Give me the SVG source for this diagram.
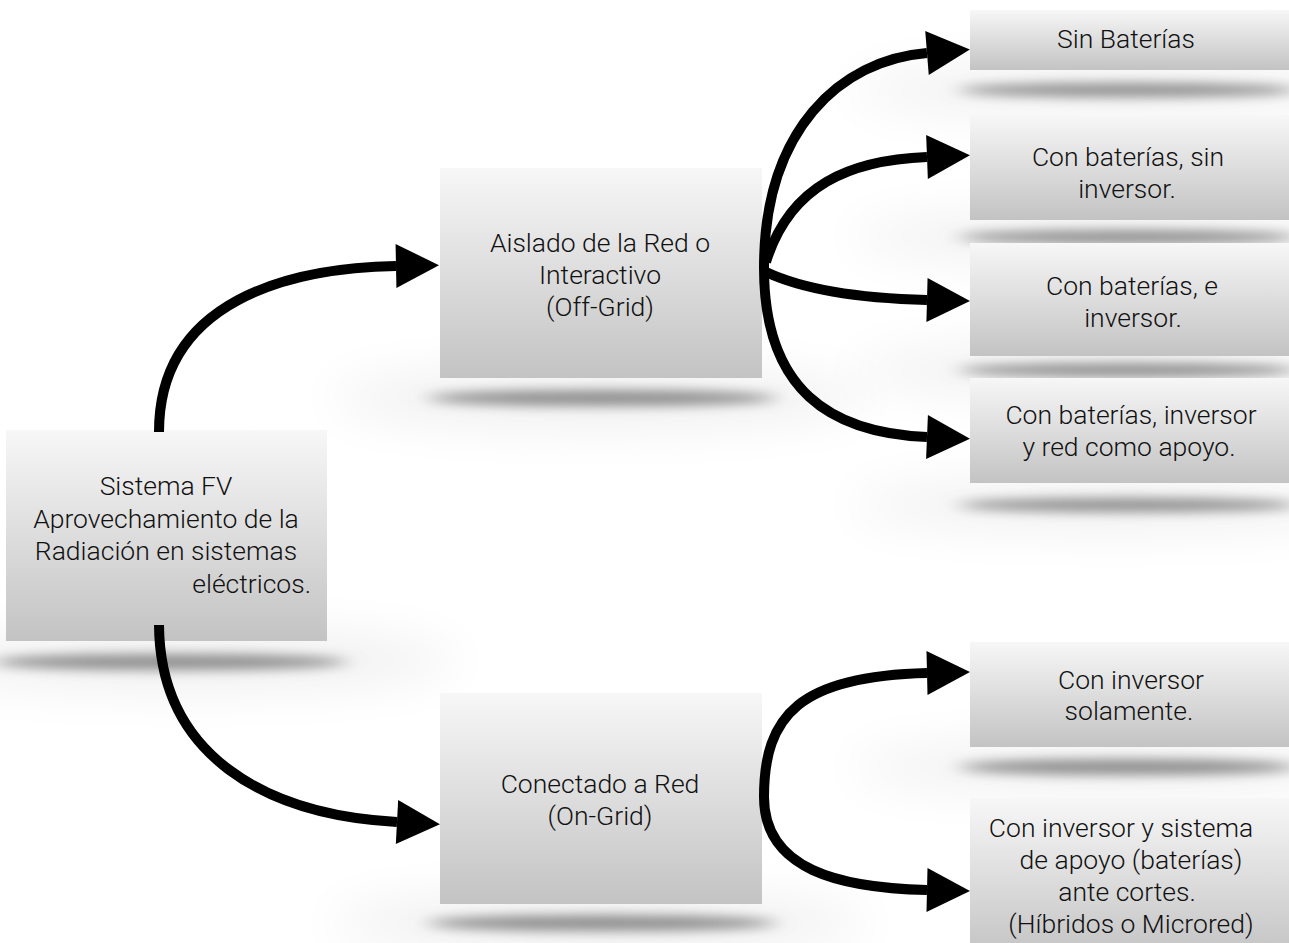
<svg xmlns="http://www.w3.org/2000/svg" width="1289" height="943" viewBox="0 0 1289 943">
  <defs>
    <style>
      .box { fill: url(#boxFill); }
      .shadow { fill: #8e8e8e; filter: url(#blurShadow); }
      .halo { fill: #000; opacity: 0.06; filter: url(#blurHalo); }
      .label { font-family: Roboto, "Liberation Sans", Arial, sans-serif; font-weight: 300; font-size: 26.5px; fill: #111; text-anchor: middle; }
      .conn { fill: none; stroke: #000; stroke-width: 10; marker-end: url(#head); }
    </style>
    <linearGradient id="boxFill" x1="0" y1="0" x2="0" y2="1">
      <stop offset="0" stop-color="#f7f7f7"/>
      <stop offset="1" stop-color="#c3c3c3"/>
    </linearGradient>
    <filter id="blurShadow" x="-20%" y="-300%" width="140%" height="700%">
      <feGaussianBlur stdDeviation="10 6"/>
    </filter>
    <filter id="blurHalo" x="-50%" y="-200%" width="200%" height="500%">
      <feGaussianBlur stdDeviation="25"/>
    </filter>
    <marker id="head" markerUnits="userSpaceOnUse" markerWidth="44" markerHeight="44" refX="0" refY="22" orient="auto" overflow="visible">
      <path d="M0,0 L43,22 L0,44 Z" fill="#000"/>
    </marker>
  </defs>

  <rect x="0" y="0" width="1289" height="943" fill="#fff"/>

  <!-- root node -->
  <g id="node-sistema">
    <ellipse class="halo" cx="190" cy="660" rx="270" ry="30"/>
    <ellipse class="shadow" cx="170" cy="662" rx="178" ry="8"/>
    <rect class="box" x="6" y="430" width="321" height="211"/>
    <text class="label" x="166" y="495">Sistema FV</text>
    <text class="label" x="166" y="528">Aprovechamiento de la</text>
    <text class="label" x="166" y="560">Radiación en sistemas</text>
    <text class="label" x="311" y="593" style="text-anchor:end">eléctricos.</text>
  </g>

  <!-- off-grid branch -->
  <g id="node-aislado">
    <ellipse class="halo" cx="600" cy="398" rx="270" ry="30"/>
    <ellipse class="shadow" cx="602" cy="398" rx="175" ry="8"/>
    <rect class="box" x="440" y="168" width="322" height="210"/>
    <text class="label" x="600" y="252">Aislado de la Red o</text>
    <text class="label" x="600" y="284">Interactivo</text>
    <text class="label" x="600" y="316">(Off-Grid)</text>
  </g>

  <!-- on-grid branch -->
  <g id="node-conectado">
    <ellipse class="halo" cx="600" cy="923" rx="270" ry="30"/>
    <ellipse class="shadow" cx="602" cy="923" rx="175" ry="8"/>
    <rect class="box" x="440" y="693" width="322" height="211"/>
    <text class="label" x="600" y="793">Conectado a Red</text>
    <text class="label" x="600" y="825">(On-Grid)</text>
  </g>

  <!-- off-grid variants -->
  <g id="node-sin-baterias">
    <ellipse class="halo" cx="1110" cy="90" rx="260" ry="25"/>
    <ellipse class="shadow" cx="1128" cy="90" rx="170" ry="7"/>
    <rect class="box" x="970" y="10" width="322" height="60"/>
    <text class="label" x="1126" y="48">Sin Baterías</text>
  </g>

  <g id="node-bat-sin-inversor">
    <ellipse class="halo" cx="1110" cy="237" rx="260" ry="25"/>
    <ellipse class="shadow" cx="1128" cy="237" rx="170" ry="7"/>
    <rect class="box" x="970" y="115" width="322" height="105"/>
    <text class="label" x="1128" y="166">Con baterías, sin</text>
    <text class="label" x="1127" y="198">inversor.</text>
  </g>

  <g id="node-bat-inversor">
    <ellipse class="halo" cx="1110" cy="370" rx="260" ry="25"/>
    <ellipse class="shadow" cx="1128" cy="370" rx="170" ry="7"/>
    <rect class="box" x="970" y="243" width="322" height="113"/>
    <text class="label" x="1132" y="295">Con baterías, e</text>
    <text class="label" x="1133" y="327">inversor.</text>
  </g>

  <g id="node-bat-inversor-red">
    <ellipse class="halo" cx="1110" cy="505" rx="260" ry="25"/>
    <ellipse class="shadow" cx="1128" cy="505" rx="170" ry="7"/>
    <rect class="box" x="970" y="378" width="322" height="105"/>
    <text class="label" x="1131" y="424">Con baterías, inversor</text>
    <text class="label" x="1129" y="456">y red como apoyo.</text>
  </g>

  <!-- on-grid variants -->
  <g id="node-inversor-solo">
    <ellipse class="halo" cx="1110" cy="767" rx="260" ry="25"/>
    <ellipse class="shadow" cx="1128" cy="767" rx="170" ry="8"/>
    <rect class="box" x="970" y="642" width="322" height="105"/>
    <text class="label" x="1131" y="689">Con inversor</text>
    <text class="label" x="1129" y="720">solamente.</text>
  </g>

  <g id="node-hibridos">
    <rect class="box" x="970" y="798" width="322" height="160"/>
    <text class="label" x="1121" y="837">Con inversor y sistema</text>
    <text class="label" x="1131" y="869">de apoyo (baterías)</text>
    <text class="label" x="1127" y="901">ante cortes.</text>
    <text class="label" x="1131" y="933">(Híbridos o Microred)</text>
  </g>

  <!-- connectors -->
  <g id="connectors">
    <path class="conn" d="M159,432 C159,300 290,268 396,266"/>
    <path class="conn" d="M159,625 C160,755 265,815 397,822"/>
    <path class="conn" d="M764,268 C764,130 840,60 927,53"/>
    <path class="conn" d="M766,262 C790,185 850,160 927,157"/>
    <path class="conn" d="M766,272 C800,288 850,298 927,300"/>
    <path class="conn" d="M764,268 C764,390 830,433 927,437"/>
    <path class="conn" d="M764,797 C764,715 800,676 927,673"/>
    <path class="conn" d="M764,797 C764,870 840,888 927,890"/>
  </g>
</svg>
